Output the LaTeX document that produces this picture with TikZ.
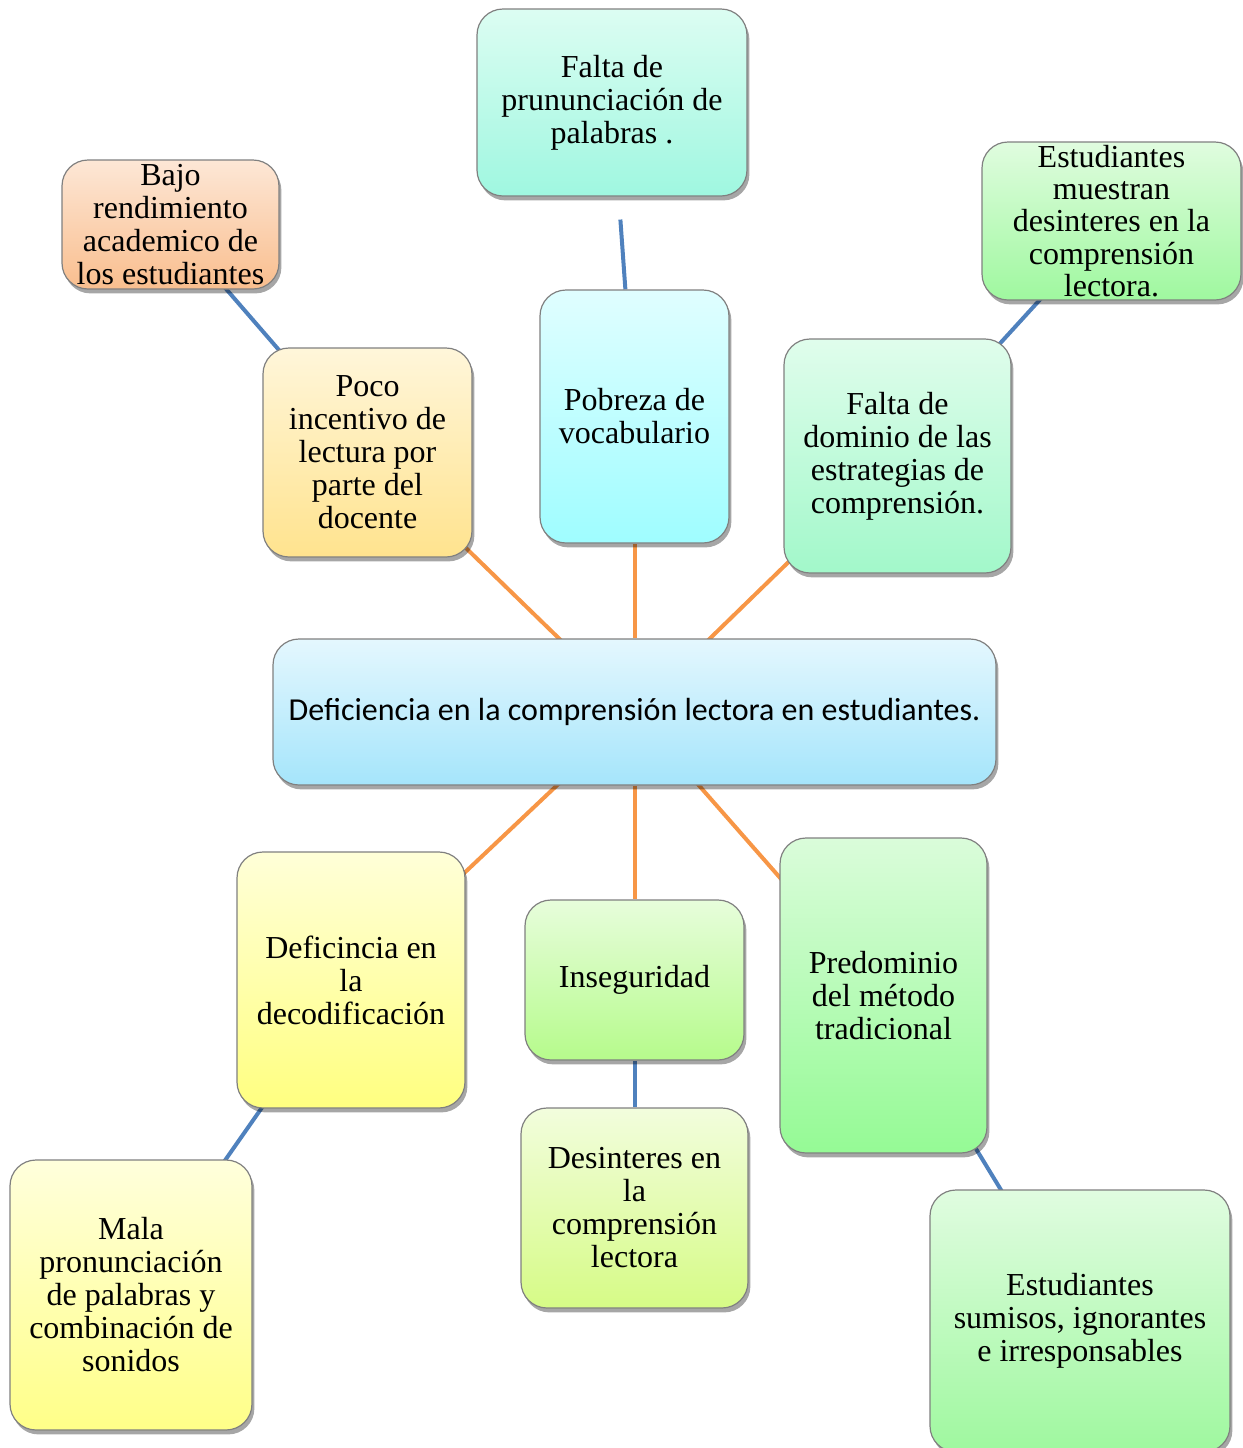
\documentclass[tikz,border=0pt]{standalone}
\usepackage{fontspec}
\setmainfont{Liberation Serif}
\newfontfamily\calib{Carlito}
\usetikzlibrary{shadows,backgrounds}
\definecolor{lineblue}{HTML}{4F81BD}
\definecolor{lineorange}{HTML}{F79646}
\definecolor{bajoT}{HTML}{FDE7D6}\definecolor{bajoB}{HTML}{F9BE8E}
\definecolor{faltaT}{HTML}{DCFDF2}\definecolor{faltaB}{HTML}{9FF7E0}
\definecolor{muesT}{HTML}{E0FCDF}\definecolor{muesB}{HTML}{9FF89F}
\definecolor{pocoT}{HTML}{FFF6DA}\definecolor{pocoB}{HTML}{FFE38E}
\definecolor{pobT}{HTML}{E0FEFF}\definecolor{pobB}{HTML}{9FFDFF}
\definecolor{domT}{HTML}{E0FDEC}\definecolor{domB}{HTML}{A2F8CA}
\definecolor{cenT}{HTML}{E4F7FE}\definecolor{cenB}{HTML}{A5E5FB}
\definecolor{decoT}{HTML}{FFFFD8}\definecolor{decoB}{HTML}{FFFF80}
\definecolor{insT}{HTML}{E7FDDB}\definecolor{insB}{HTML}{B6FB8C}
\definecolor{preT}{HTML}{DAFCDA}\definecolor{preB}{HTML}{95FA95}
\definecolor{malaT}{HTML}{FFFFDC}\definecolor{malaB}{HTML}{FFFF88}
\definecolor{desT}{HTML}{F2FDDD}\definecolor{desB}{HTML}{D6FB86}
\definecolor{sumT}{HTML}{E0FCE0}\definecolor{sumB}{HTML}{9FF89F}
\tikzset{
  box/.style={draw=black!50, line width=0.6pt, rounded corners=13pt, inner sep=0pt,
    align=center, font=\fontsize{16}{16.5}\selectfont,
    drop shadow={shadow xshift=1.2pt, shadow yshift=-2.2pt, opacity=0.35, fill=black}},
  sz/.style 2 args={minimum width=#1*0.5pt, minimum height=#2*0.5pt},
  grad/.style 2 args={top color=#1, bottom color=#2},
  blueline/.style={draw=lineblue, line width=2pt},
  orangeline/.style={draw=lineorange, line width=2pt},
  into/.style={shorten <=-6pt, shorten >=-6pt}
}
\begin{document}
\begin{tikzpicture}[x=0.5pt,y=-0.5pt]
\useasboundingbox (0,0) rectangle (1243,1448);
% level 2 (top)
\node[box, sz={217}{129}, grad={bajoT}{bajoB}] (bajo) at (170.5,224.5)
  {Bajo\\rendimiento\\academico de\\los estudiantes};
\node[box, sz={270}{187}, grad={faltaT}{faltaB}] (faltapr) at (612,102.5)
  {Falta de\\prununciación de\\palabras .};
\node[box, sz={259}{158}, grad={muesT}{muesB}, font=\fontsize{16}{16.2}\selectfont] (muestran) at (1111.5,221)
  {Estudiantes\\muestran\\desinteres en la\\comprensión\\lectora.};
% level 1 (top)
\node[box, sz={209}{209}, grad={pocoT}{pocoB}] (poco) at (367.5,452.5)
  {Poco\\incentivo de\\lectura por\\parte del\\docente};
\node[box, sz={189}{253}, grad={pobT}{pobB}] (pobreza) at (634.5,416.5)
  {Pobreza de\\vocabulario};
\node[box, sz={227}{234}, grad={domT}{domB}] (dominio) at (897.5,456)
  {Falta de\\dominio de las\\estrategias de\\comprensión.};
% central
\node[box, sz={723}{146}, grad={cenT}{cenB}, font=\calib\fontsize{16}{19}\selectfont] (central) at (634.5,712)
  {Deficiencia en la comprensión lectora en estudiantes.};
% level 1 (bottom)
\node[box, sz={228}{256}, grad={decoT}{decoB}] (deco) at (351,980)
  {Deficincia en\\la\\decodificación};
\node[box, sz={219}{160}, grad={insT}{insB}] (inseg) at (634.5,980)
  {Inseguridad};
\node[box, sz={207}{315}, grad={preT}{preB}] (predom) at (883.5,995.5)
  {Predominio\\del método\\tradicional};
% level 2 (bottom)
\node[box, sz={242}{270}, grad={malaT}{malaB}] (mala) at (131,1295)
  {Mala\\pronunciación\\de palabras y\\combinación de\\sonidos};
\node[box, sz={227}{200}, grad={desT}{desB}] (desint) at (634.5,1208)
  {Desinteres en\\la\\comprensión\\lectora};
\node[box, sz={300}{262}, grad={sumT}{sumB}] (sumisos) at (1080,1321)
  {Estudiantes\\sumisos, ignorantes\\e irresponsables};
% connectors
\begin{scope}[on background layer]
\draw[orangeline, into] (central) -- (poco);
\draw[orangeline] (central) -- (pobreza);
\draw[orangeline, into] (central) -- (dominio);
\draw[orangeline, into] (central) -- (deco);
\draw[orangeline] (central) -- (inseg);
\draw[orangeline, into] (central) -- (predom);
\draw[blueline, into] (poco) -- (bajo);
\draw[blueline, shorten >=11.5pt] (pobreza) -- (faltapr);
\draw[blueline, into] (dominio) -- (muestran);
\draw[blueline, into] (deco) -- (mala);
\draw[blueline] (inseg) -- (desint);
\draw[blueline, into] (predom) -- (sumisos);
\end{scope}
\end{tikzpicture}
\end{document}
